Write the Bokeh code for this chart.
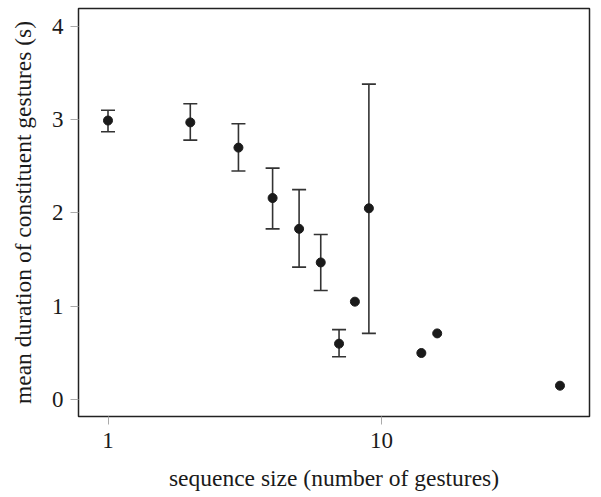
from bokeh.plotting import figure
from bokeh.models import ColumnDataSource, Whisker, TeeHead, FixedTicker, BasicTickFormatter, Range1d
from bokeh.embed import file_html
from bokeh.resources import INLINE

# data
seq_size = [1, 2, 3, 4, 5, 6, 7, 8, 9, 14, 16, 45]
mean_dur = [2.99, 2.97, 2.70, 2.16, 1.83, 1.47, 0.60, 1.05, 2.05, 0.50, 0.71, 0.15]
err_low = [2.87, 2.78, 2.45, 1.83, 1.42, 1.17, 0.46, None, 0.71, None, None, None]
err_high = [3.10, 3.17, 2.955, 2.48, 2.25, 1.77, 0.75, None, 3.38, None, None, None]
x_ticks = [1, 10]
y_ticks = [0, 1, 2, 3, 4]

FONT = "Liberation Serif"

p = figure(width=593, height=489, x_axis_type="log", output_backend="svg",
           toolbar_location=None, x_range=Range1d(0.78, 57.7), y_range=Range1d(-0.18, 4.19),
           min_border_left=78, min_border_right=4, min_border_top=8, min_border_bottom=73,
           frame_width=511, frame_height=408)
p.grid.visible = False
p.background_fill_color = "white"
p.border_fill_color = "white"
p.outline_line_color = "#222222"
p.outline_line_width = 1.5

bx, blo, bhi = [], [], []
for s, lo, hi in zip(seq_size, err_low, err_high):
    if lo is not None:
        bx.append(s); blo.append(lo); bhi.append(hi)
src_err = ColumnDataSource(dict(x=bx, lower=blo, upper=bhi))
w = Whisker(base="x", lower="lower", upper="upper", source=src_err, dimension="height",
            line_color="#333333", line_width=1.6,
            upper_head=TeeHead(size=14, line_color="#333333", line_width=1.6),
            lower_head=TeeHead(size=14, line_color="#333333", line_width=1.6))
p.add_layout(w)

p.scatter(seq_size, mean_dur, size=9, fill_color="#1a1a1a", line_color="#1a1a1a")

for ax in (p.xaxis[0], p.yaxis[0]):
    ax.axis_line_color = None
    ax.major_tick_in = 0
    ax.major_tick_out = 8
    ax.major_tick_line_color = "#aaaaaa"
    ax.minor_tick_line_color = None
    ax.major_label_text_font = FONT
    ax.major_label_text_font_size = "23px"
    ax.major_label_text_color = "#1a1a1a"
    ax.axis_label_text_font = FONT
    ax.axis_label_text_font_size = "23.5px"
    ax.axis_label_text_font_style = "normal"
    ax.axis_label_text_color = "#1a1a1a"

p.xaxis.ticker = FixedTicker(ticks=x_ticks)
p.xaxis.formatter = BasicTickFormatter()
p.xaxis.major_label_standoff = 8
p.xaxis.axis_label = "sequence size (number of gestures)"
p.xaxis.axis_label_standoff = 14
p.yaxis.ticker = FixedTicker(ticks=y_ticks)
p.yaxis.major_label_standoff = 7
p.yaxis.axis_label = "mean duration of constituent gestures (s)"
p.yaxis.axis_label_standoff = 13

open("out.html", "w").write(file_html(p, INLINE))
